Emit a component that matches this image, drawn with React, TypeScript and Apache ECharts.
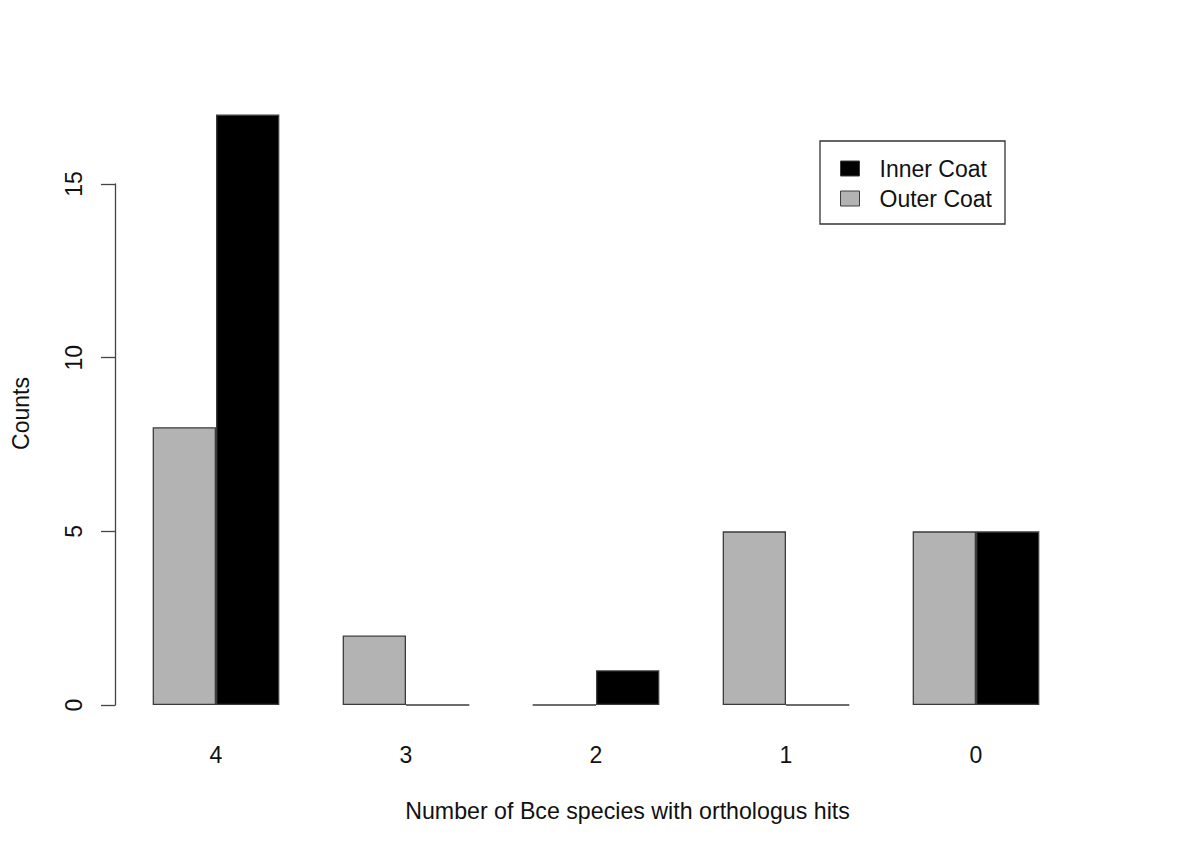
import React, { useEffect, useRef } from "react";
import * as echarts from "echarts";

const categories = ["4", "3", "2", "1", "0"];
const outerCoat = [8, 2, 0, 5, 5];
const innerCoat = [17, 0, 1, 0, 5];
const yTicks = [0, 5, 10, 15];
const xTitle = "Number of Bce species with orthologus hits";
const yTitle = "Counts";

const FONT = "'Liberation Sans', Arial, Helvetica, sans-serif";
const GRAY = "#b3b3b3";
const BORDER = "#3c3c3c";

export default function App() {
  const ref = useRef<HTMLDivElement>(null);
  useEffect(() => {
    document.body.style.margin = "0";
    const chart = echarts.init(ref.current!, null, { renderer: "svg" });
    const option: any = {
      animation: false,
      backgroundColor: "#ffffff",
      textStyle: { fontFamily: FONT },
      grid: [
        { left: 121, width: 950, top: 114.6, height: 590.4 },
        { left: 115, width: 10, top: 184, height: 521 },
      ],
      xAxis: [
        {
          type: "category",
          gridIndex: 0,
          data: categories,
          axisLine: { show: false },
          axisTick: { show: false },
          splitLine: { show: false },
          axisLabel: { fontSize: 23, color: "#111", margin: 38, fontFamily: FONT },
        },
        { type: "value", gridIndex: 1, show: false, min: 0, max: 1 },
      ],
      yAxis: [
        { type: "value", gridIndex: 0, min: 0, max: 17, show: false, splitLine: { show: false } },
        {
          type: "value",
          gridIndex: 1,
          min: yTicks[0],
          max: yTicks[yTicks.length - 1],
          interval: 5,
          position: "left",
          splitLine: { show: false },
          axisLine: { show: true, lineStyle: { color: "#444", width: 1.3 } },
          axisTick: { show: true, length: 14, lineStyle: { color: "#444", width: 1.3 } },
          axisLabel: { rotate: 90, fontSize: 23, color: "#111", margin: 30, fontFamily: FONT },
        },
      ],
      legend: {
        orient: "vertical",
        left: 820,
        top: 141,
        padding: [16, 13, 14, 20],
        itemGap: 7,
        itemWidth: 19,
        itemHeight: 15,
        borderColor: "#333",
        borderWidth: 1.3,
        borderRadius: 0,
        backgroundColor: "#fff",
        selectedMode: false,
        textStyle: { fontSize: 23, color: "#111", fontFamily: FONT, padding: [0, 0, 0, 15] },
        data: [
          { name: "Inner Coat", icon: "rect", itemStyle: { color: "#000", borderColor: BORDER, borderWidth: 1 } },
          { name: "Outer Coat", icon: "rect", itemStyle: { color: GRAY, borderColor: BORDER, borderWidth: 1 } },
        ],
      },
      series: [
        {
          name: "Outer Coat",
          type: "bar",
          xAxisIndex: 0,
          yAxisIndex: 0,
          data: outerCoat,
          barGap: "0%",
          barCategoryGap: "33.333%",
          itemStyle: { color: GRAY, borderColor: BORDER, borderWidth: 1.3 },
        },
        {
          name: "Inner Coat",
          type: "bar",
          xAxisIndex: 0,
          yAxisIndex: 0,
          data: innerCoat,
          barGap: "0%",
          barCategoryGap: "33.333%",
          itemStyle: { color: "#000", borderColor: BORDER, borderWidth: 1.3 },
        },
      ],
      graphic: [
        {
          type: "text",
          x: 627.5,
          y: 811,
          style: {
            text: xTitle,
            fontSize: 23.2,
            fontFamily: FONT,
            fill: "#111",
            textAlign: "center",
            textVerticalAlign: "middle",
          },
        },
        {
          type: "text",
          x: 21,
          y: 413.5,
          rotation: Math.PI / 2,
          style: {
            text: yTitle,
            fontSize: 23,
            fontFamily: FONT,
            fill: "#111",
            textAlign: "center",
            textVerticalAlign: "middle",
          },
        },
      ],
    };
    chart.setOption(option);
    return () => chart.dispose();
  }, []);
  return <div ref={ref} style={{ width: 1200, height: 854 }} />;
}
